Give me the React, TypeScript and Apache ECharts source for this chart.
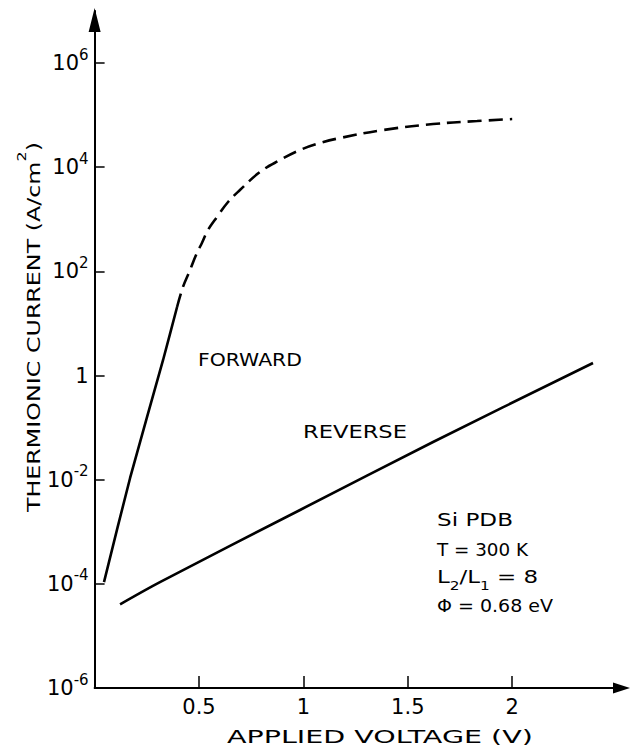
import React, { useEffect, useRef } from 'react';
import * as echarts from 'echarts';

const FONT = 'DejaVu Sans';

// Axis ticks
const xTickValues = [0.5, 1, 1.5, 2];
const yTickExponents = [-6, -4, -2, 0, 2, 4, 6];

// Forward characteristic, solid part: applied voltage (V) and current (A/cm^2)
const forwardSolidV = [0.045, 0.170, 0.328, 0.395];
const forwardSolidJ = [1.08e-4, 1.08e-2, 1.99, 20.7];

// Forward characteristic, dashed part
const forwardDashedV = [0.395, 0.423, 0.457, 0.490, 0.514, 0.543, 0.586, 0.639, 0.696, 0.792, 0.888, 0.983, 1.079, 1.175, 1.381, 1.621, 1.832, 2.000];
const forwardDashedJ = [20.7, 50, 106, 225, 351, 622, 1107, 2148, 3648, 8091, 13740, 21380, 29170, 36390, 51760, 67450, 77090, 84140];

// Reverse characteristic
const reverseV = [0.122, 0.313, 0.984, 1.621, 2.387];
const reverseJ = [4.05e-5, 1.08e-4, 2.62e-3, 5.3e-2, 1.74];

// Annotation texts
const paramLines = ['Si PDB', 'T = 300 K', 'L{s|2}/L{s|1} = 8', 'Φ = 0.68 eV'];

function toSeries(vs: number[], js: number[]) {
  return vs.map((v, i) => [v, Math.log10(js[i])]);
}

function measure(text: string, size: number): number {
  const c = document.createElement('canvas').getContext('2d');
  if (!c) return text.length * size * 0.65;
  c.font = `${size}px "${FONT}"`;
  return c.measureText(text).width;
}

function stretched(text: string, left: number, right: number, cy: number, size: number) {
  const w = measure(text, size);
  return {
    type: 'text',
    x: left,
    y: cy,
    scaleX: (right - left) / w,
    style: { text, fontSize: size, fontFamily: FONT, fill: '#000', align: 'left', verticalAlign: 'middle' },
  };
}

function stretchedRich(raw: string, left: number, right: number, cy: number, size: number, subSize: number) {
  let w = 0;
  const re = /\{s\|([^}]*)\}|([^{]+)/g;
  let m: RegExpExecArray | null;
  while ((m = re.exec(raw))) {
    if (m[1] !== undefined) w += measure(m[1], subSize);
    else w += measure(m[2], size);
  }
  const text = raw.replace(/([^{}|]+)(?=\{|$)/g, (seg) => `{m|${seg}}`);
  return {
    type: 'text',
    x: left,
    y: cy,
    scaleX: (right - left) / w,
    style: {
      text,
      fontSize: size,
      fontFamily: FONT,
      fill: '#000',
      align: 'left',
      verticalAlign: 'middle',
      rich: {
        m: { fontSize: size, fontFamily: FONT, fill: '#000', lineHeight: 30, verticalAlign: 'middle' },
        s: { fontSize: subSize, fontFamily: FONT, fill: '#000', lineHeight: 30, verticalAlign: 'bottom' },
      },
    },
  };
}

export default function App() {
  const ref = useRef<HTMLDivElement>(null);

  useEffect(() => {
    if (!ref.current) return;
    const chart = echarts.init(ref.current, undefined, { renderer: 'svg' });

    const yNameMain = 'THERMIONIC CURRENT (A/cm';
    const yNameW = measure(yNameMain, 18) + measure('2', 12) + measure(')', 18);
    const yName = {
      type: 'text',
      x: 33.5,
      y: 512,
      rotation: Math.PI / 2,
      scaleX: 370 / yNameW,
      style: {
        text: `{m|${yNameMain}}{s|2}{m|)}`,
        fontSize: 18,
        fontFamily: FONT,
        fill: '#000',
        align: 'left',
        verticalAlign: 'middle',
        rich: {
          m: { fontSize: 18, fontFamily: FONT, fill: '#000', lineHeight: 36, verticalAlign: 'middle' },
          s: { fontSize: 12, fontFamily: FONT, fill: '#000', lineHeight: 36, verticalAlign: 'top' },
        },
      },
    };

    const graphics: any[] = [
      yName,
      stretched('APPLIED VOLTAGE (V)', 227, 533, 737, 18),
      stretched('FORWARD', 198, 302, 359.5, 18),
      stretched('REVERSE', 303, 407, 431.5, 18),
      stretched(paramLines[0], 437, 513, 520, 18),
      stretched(paramLines[1], 437, 528, 549.5, 18),
      stretchedRich(paramLines[2], 437, 538, 576.5, 18, 12),
      stretched(paramLines[3], 437, 553, 606, 18),
    ];

    const lineCol = '#000';

    chart.setOption({
      animation: false,
      backgroundColor: '#fff',
      grid: { left: 94.6, right: 14.4, top: 11, bottom: 59, containLabel: false },
      xAxis: {
        type: 'value',
        min: 0,
        max: 2.5,
        splitLine: { show: false },
        axisLine: {
          onZero: false,
          lineStyle: { color: lineCol, width: 2 },
          symbol: ['none', 'triangle'],
          symbolSize: [11, 17],
          symbolOffset: [0, 4.9],
        },
        axisTick: { inside: true, length: 12, customValues: xTickValues, lineStyle: { color: lineCol, width: 1.5 } },
        axisLabel: {
          customValues: xTickValues,
          formatter: (v: number) => String(v),
          margin: 8,
          fontSize: 21,
          fontFamily: FONT,
          color: '#000',
        },
      },
      yAxis: {
        type: 'value',
        min: -6,
        max: 7,
        splitLine: { show: false },
        axisLine: {
          onZero: false,
          lineStyle: { color: lineCol, width: 2 },
          symbol: ['none', 'triangle'],
          symbolSize: [12, 24],
          symbolOffset: [0, -9],
        },
        axisTick: { inside: true, length: 10, customValues: yTickExponents, lineStyle: { color: lineCol, width: 1.5 } },
        axisLabel: {
          customValues: yTickExponents,
          formatter: (v: number) => (v === 0 ? '{b|1}' : `{b|10}{s|${v}}`),
          margin: 6,
          fontSize: 21,
          fontFamily: FONT,
          color: '#000',
          rich: {
            b: { fontSize: 21, fontFamily: FONT, color: '#000', lineHeight: 32, verticalAlign: 'middle' },
            s: { fontSize: 15, fontFamily: FONT, color: '#000', lineHeight: 32, verticalAlign: 'top' },
          },
        },
      },
      series: [
        {
          name: 'Forward',
          type: 'line',
          data: toSeries(forwardSolidV, forwardSolidJ),
          showSymbol: false,
          symbol: 'none',
          smooth: 0.2,
          lineStyle: { color: lineCol, width: 2.6 },
        },
        {
          name: 'Forward (dashed)',
          type: 'line',
          data: toSeries(forwardDashedV, forwardDashedJ),
          showSymbol: false,
          symbol: 'none',
          smooth: 0.4,
          lineStyle: { color: lineCol, width: 2.6, type: [14, 7] },
        },
        {
          name: 'Reverse',
          type: 'line',
          data: toSeries(reverseV, reverseJ),
          showSymbol: false,
          symbol: 'none',
          smooth: 0.3,
          lineStyle: { color: lineCol, width: 2.6 },
        },
      ],
      graphic: graphics,
    });

    return () => chart.dispose();
  }, []);

  return (
    <div
      ref={ref}
      style={{ position: 'fixed', left: 0, top: 0, width: 631, height: 747, background: '#fff' }}
    />
  );
}
